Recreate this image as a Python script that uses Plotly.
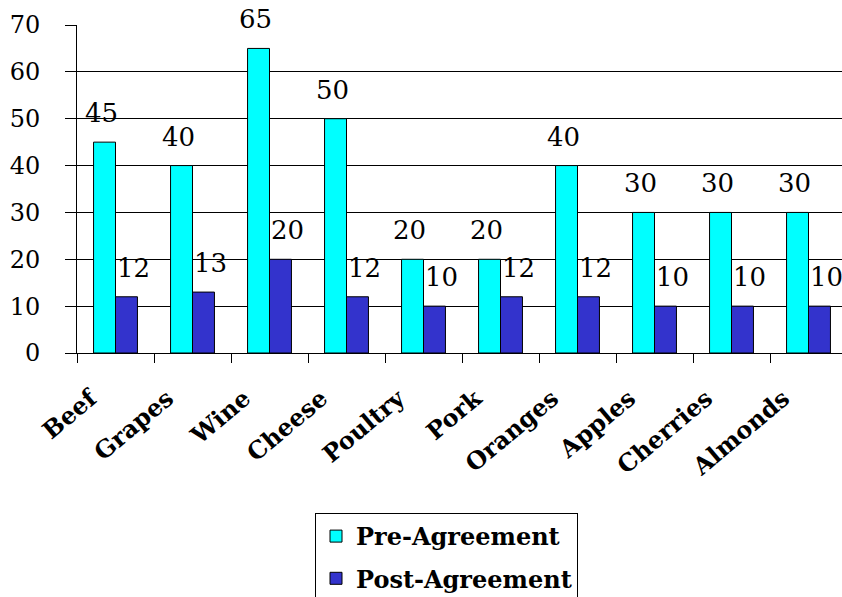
import plotly.graph_objects as go

categories = ["Beef", "Grapes", "Wine", "Cheese", "Poultry", "Pork",
              "Oranges", "Apples", "Cherries", "Almonds"]
pre_agreement = [45, 40, 65, 50, 20, 20, 40, 30, 30, 30]
post_agreement = [12, 13, 20, 12, 10, 12, 12, 10, 10, 10]
y_ticks = [0, 10, 20, 30, 40, 50, 60, 70]

SERIF = "DejaVu Serif"

fig = go.Figure()
fig.add_trace(go.Bar(
    x=categories, y=pre_agreement, name="Pre-Agreement",
    marker=dict(color="#00FFFF", line=dict(color="black", width=1)),
    legendgroup="a",
))
fig.add_trace(go.Bar(
    x=categories, y=post_agreement, name="Post-Agreement",
    marker=dict(color="#3333CC", line=dict(color="black", width=1)),
    legendgroup="b",
))

annotations = []
for c, v in zip(categories, pre_agreement):
    annotations.append(dict(x=c, y=v, xref="x", yref="y", text=str(v),
                            showarrow=False, xshift=-14, yshift=29,
                            font=dict(family=SERIF, size=26, color="black")))
for c, v in zip(categories, post_agreement):
    annotations.append(dict(x=c, y=v, xref="x", yref="y", text=str(v),
                            showarrow=False, xshift=18, yshift=29,
                            font=dict(family=SERIF, size=26, color="black")))

fig.update_layout(
    width=842, height=597,
    margin=dict(l=77, r=0, t=25, b=244, autoexpand=False),
    paper_bgcolor="white", plot_bgcolor="white",
    barmode="group", bargap=0.43, bargroupgap=0,
    annotations=annotations,
    showlegend=True,
    legend=dict(
        x=(315 - 77) / 765, y=(353 - 513) / 328, xanchor="left", yanchor="top",
        bgcolor="white", bordercolor="black", borderwidth=1,
        font=dict(family=SERIF, size=24, color="black", weight="bold"),
        tracegroupgap=8, traceorder="grouped",
    ),
    xaxis=dict(
        range=[-0.5, 9.5 - 5 / 77], automargin=False,
        showgrid=False, showline=True, linecolor="black", linewidth=1,
        ticks="outside", ticklen=9, tickcolor="black", tickwidth=1,
        tickson="boundaries", tickangle=-40,
        ticklabelshift=-25, ticklabelstandoff=21,
        tickfont=dict(family=SERIF, size=24, color="black", weight="bold"),
    ),
    yaxis=dict(
        range=[0, 70], tickvals=y_ticks, automargin=False,
        showgrid=True, gridcolor="black", gridwidth=1,
        showline=True, linecolor="black", linewidth=1,
        ticks="outside", ticklen=11, tickcolor="black", tickwidth=1,
        ticklabelstandoff=20, zeroline=False,
        tickfont=dict(family=SERIF, size=24, color="black"),
    ),
)

fig.write_html("out.html")
